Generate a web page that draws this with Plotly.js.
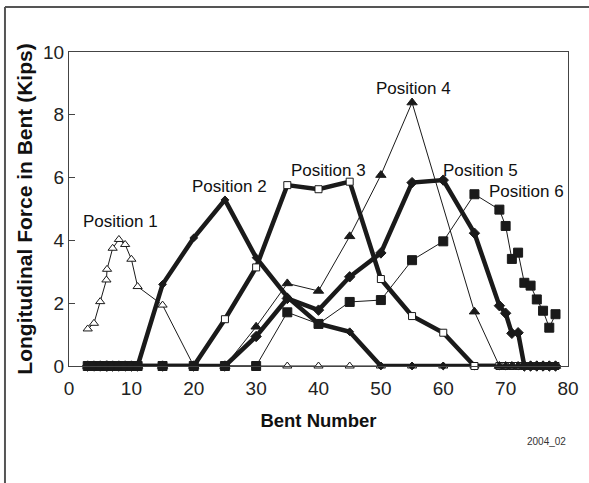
<!DOCTYPE html>
<html>
<head>
<meta charset="utf-8">
<script src="https://cdn.plot.ly/plotly-3.0.1.min.js"></script>
<style>
  html, body { margin: 0; padding: 0; background: #fff; }
  #chart { width: 589px; height: 483px; }
</style>
</head>
<body>
<div id="chart"></div>
<script>
// Bent numbers (x positions of the bents)
const bents = [3, 4, 5, 6, 6.1, 7, 8, 9, 10, 11, 15, 20, 25, 30, 35, 40, 45, 50, 55, 60, 65, 69, 70, 71, 72, 73, 74, 75, 76, 77, 78];

// Longitudinal force (kips) per load position
const pos1 = [1.18, 1.36, 2.05, 2.74, 3.08, 3.75, 4.03, 3.87, 3.40, 2.53, 1.94, 0, 0, 0, 0, 0, 0, 0, 0, 0, 0, 0, 0, 0, 0, 0, 0, 0, 0, 0, 0];
const pos2 = [0, 0, 0, 0, 0, 0, 0, 0, 0, 0, 2.60, 4.08, 5.29, 3.45, 2.20, 1.35, 1.09, 0, 0, 0, 0, 0, 0, 0, 0, 0, 0, 0, 0, 0, 0];
const pos3 = [0, 0, 0, 0, 0, 0, 0, 0, 0, 0, 0, 0, 1.49, 3.14, 5.76, 5.63, 5.87, 2.77, 1.59, 1.06, 0, 0, 0, 0, 0, 0, 0, 0, 0, 0, 0];
const pos4 = [0, 0, 0, 0, 0, 0, 0, 0, 0, 0, 0, 0, 0, 1.25, 2.63, 2.39, 4.13, 6.08, 8.39, null, 1.73, 0, 0, 0, 0, 0, 0, 0, 0, 0, 0];
const pos5 = [0, 0, 0, 0, 0, 0, 0, 0, 0, 0, 0, 0, 0, 0.94, 2.15, 1.78, 2.84, 3.60, 5.84, 5.92, 4.23, 1.92, 1.68, 1.04, 1.06, 0, 0, 0, 0, 0, 0];
const pos6 = [0, 0, 0, 0, 0, 0, 0, 0, 0, 0, 0, 0, 0, 0, 1.71, 1.34, 2.04, 2.10, 3.37, 3.97, 5.47, 4.98, 4.46, 3.41, 3.61, 2.65, 2.56, 2.12, 1.76, 1.22, 1.65];

const labels = ["Position 1", "Position 2", "Position 3", "Position 4", "Position 5", "Position 6"];
const labelX = [8.3, 25.7, 41.6, 55.2, 66.0, 73.3];
const labelY = [4.59, 5.73, 6.24, 8.85, 6.24, 5.56];

const INK = "#1a1a1a";
const FONT = "Liberation Sans, Arial, sans-serif";

const traces = [
  { y: pos1, lineW: 1, sym: "triangle-up", size: 8, fill: "#fff" },
  { y: pos2, lineW: 4.5, sym: "diamond", size: 6, fill: INK },
  { y: pos3, lineW: 4.5, sym: "square", size: 7, fill: "#fff" },
  { y: pos4, lineW: 1, sym: "triangle-up", size: 9, fill: INK },
  { y: pos5, lineW: 4.5, sym: "diamond", size: 8, fill: INK },
  { y: pos6, lineW: 1, sym: "square", size: 9, fill: INK }
].map((s, i) => ({
  type: "scatter",
  mode: "lines+markers",
  name: labels[i],
  x: bents,
  y: s.y,
  connectgaps: true,
  cliponaxis: false,
  line: { color: INK, width: s.lineW },
  marker: { symbol: s.sym, size: s.size, color: s.fill, line: { color: INK, width: 1 } },
  showlegend: false
}));

const annotations = labels.map((t, i) => ({
  x: labelX[i], y: labelY[i], xref: "x", yref: "y",
  text: t, showarrow: false,
  font: { family: FONT, size: 17, color: "#111" },
  xanchor: "center", yanchor: "middle"
}));
annotations.push({
  xref: "paper", yref: "paper", x: 1.0, y: -0.24,
  text: "2004_02", showarrow: false,
  font: { family: FONT, size: 10, color: "#333" },
  xanchor: "right", yanchor: "middle"
});

const layout = {
  width: 589, height: 483,
  margin: { l: 69, r: 21, t: 52, b: 117 },
  paper_bgcolor: "#fff", plot_bgcolor: "#fff",
  font: { family: FONT, color: "#111" },
  xaxis: {
    range: [0, 80], tick0: 0, dtick: 10,
    showgrid: false, zeroline: false,
    showline: true, mirror: true, linecolor: "#444", linewidth: 1,
    ticks: "outside", ticklen: 5, tickcolor: "rgba(0,0,0,0)",
    tickfont: { family: FONT, size: 19, color: "#222" },
    title: { text: "<b>Bent Number</b>", font: { family: FONT, size: 18.5, color: "#111" }, standoff: 16 }
  },
  yaxis: {
    range: [0, 10], tick0: 0, dtick: 2,
    showgrid: false, zeroline: false,
    showline: true, mirror: true, linecolor: "#444", linewidth: 1,
    ticks: "inside", ticklen: 6, tickcolor: "#444",
    tickfont: { family: FONT, size: 19, color: "#222" },
    title: { text: "<b>Longitudinal Force in Bent (Kips)</b>", font: { family: FONT, size: 21, color: "#111" }, standoff: 4 }
  },
  annotations: annotations,
  shapes: [
    { type: "line", xref: "paper", yref: "paper", x0: -0.1283, x1: 1.2, y0: 1.1433, y1: 1.1433, line: { color: "#555", width: 2 } },
    { type: "line", xref: "paper", yref: "paper", x0: -0.1283, x1: -0.1283, y0: 1.1433, y1: -0.5, line: { color: "#555", width: 2 } }
  ]
};

Plotly.newPlot("chart", traces, layout, { displayModeBar: false, staticPlot: true });
</script>
</body>
</html>
